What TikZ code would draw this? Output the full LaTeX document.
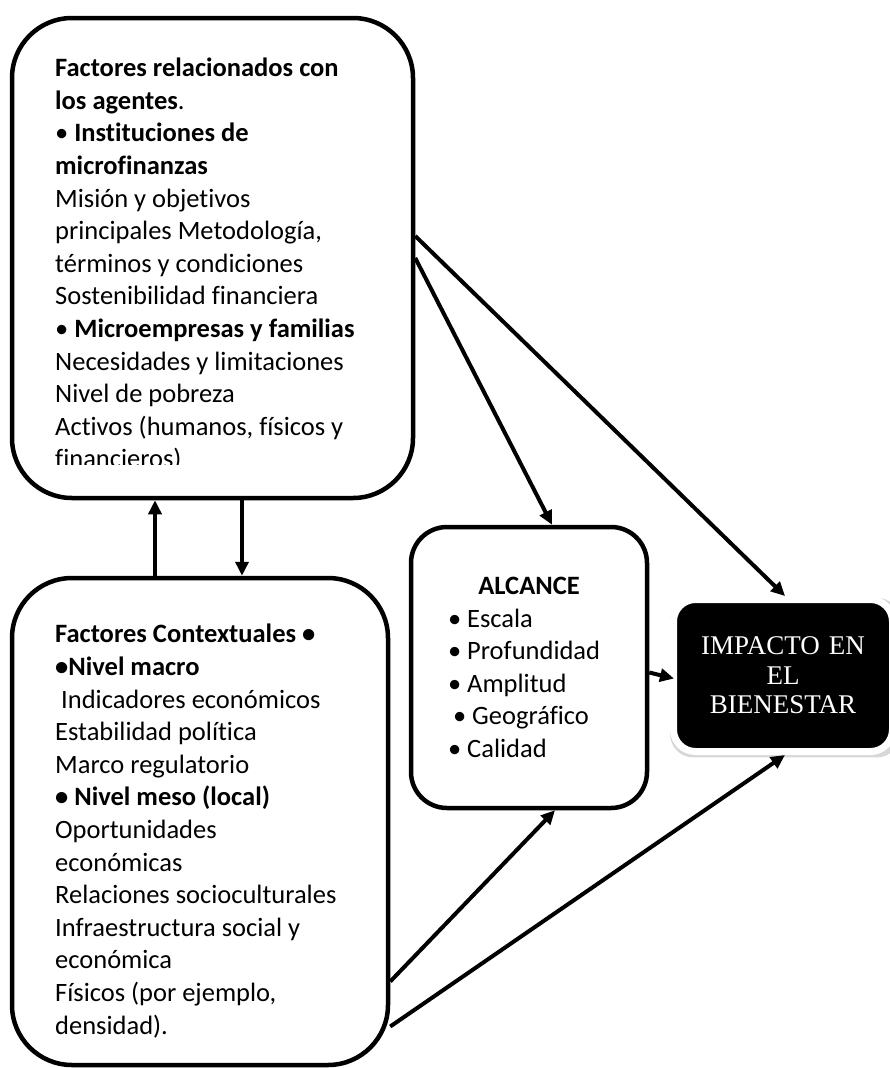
\documentclass[tikz,border=0pt]{standalone}
\usepackage{fontspec}
\setmainfont{Carlito}[Ligatures=CommonOff]
\newfontfamily\impactofont{Liberation Serif}
\usetikzlibrary{arrows.meta,positioning,shadows}
\tikzset{
  factorbox/.style={draw=black,line width=4.5pt,fill=white,rounded corners=60pt},
  factortext/.style={anchor=north west,inner sep=0pt,align=flush left,text width=345pt,
    font=\fontsize{26.5}{32.6}\selectfont},
  alcancebox/.style={draw=black,line width=4.5pt,fill=white,rounded corners=36pt,
    minimum width=236pt,minimum height=281pt,text width=162pt,align=flush left,
    font=\fontsize{26.5}{32.6}\selectfont},
  impactobox/.style={draw=white,line width=7pt,fill=black,rounded corners=22pt,
    minimum width=219pt,minimum height=152pt,text width=200pt,align=center,text=white,
    font=\impactofont\fontsize{27}{29.5}\selectfont,
    drop shadow={shadow xshift=2pt,shadow yshift=-2pt,shadow scale=1.05,fill=black!35,opacity=.45}},
  flow/.style={-{Triangle[length=14pt,width=13pt]},line width=4pt,draw=black}
}
\begin{document}
\begin{tikzpicture}[x=1pt,y=-1pt]
  \useasboundingbox (0,0) rectangle (890,1068);
  \node[factorbox,minimum width=401pt,minimum height=480pt] (agentes) at (212.5,258) {};
  \begin{scope}
    \clip (0,0) rectangle (420,464);
    \node[factortext] (agentestxt) at (55,58) {\textbf{Factores relacionados con}\\
      \textbf{los agentes}.\\
      • \textbf{Instituciones de}\\
      \textbf{microfinanzas}\\
      Misión y objetivos\\
      principales Metodología,\\
      términos y condiciones\\
      Sostenibilidad financiera\\
      • \textbf{Microempresas y familias}\\
      Necesidades y limitaciones\\
      Nivel de pobreza\\
      Activos (humanos, físicos y\\
      financieros)};
  \end{scope}
  \node[factorbox,minimum width=376pt,minimum height=487pt] (contexto) at (200,821.5) {};
  \node[factortext] (contextotxt) at (55,624) {\textbf{Factores Contextuales •}\\
    \textbf{•Nivel macro}\\
    \hspace*{6pt}Indicadores económicos\\
    Estabilidad política\\
    Marco regulatorio\\
    \textbf{• Nivel meso (local)}\\
    Oportunidades\\
    económicas\\
    Relaciones socioculturales\\
    Infraestructura social y\\
    económica\\
    Físicos (por ejemplo,\\
    densidad).};
  \node[alcancebox] (alcance) at (529,667.5) {\makebox[162pt][c]{\textbf{ALCANCE}}\\
    • Escala\\
    • Profundidad\\
    • Amplitud\\
    \hspace*{5pt}• Geográfico\\
    • Calidad};
  \node[impactobox] (impacto) at (783,675.5) {IMPACTO EN\\EL\\BIENESTAR};
  \draw[flow] ([xshift=-45pt]contexto.north) -- ([xshift=-45pt]contexto.north |- agentes.south);
  \draw[flow] ([xshift=42pt]contexto.north |- agentes.south) -- ([xshift=42pt]contexto.north);
  \draw[flow] ([yshift=22pt]agentes.east) -- ([xshift=2pt]impacto.north);
  \draw[flow] (agentes.east) -- ([xshift=23pt]alcance.north);
  \draw[flow] ([yshift=-5pt]alcance.east) -- ([yshift=-3pt,xshift=4pt]impacto.west);
  \draw[flow] ([yshift=-160pt]contexto.east) -- ([xshift=26pt]alcance.south);
  \draw[flow] ([yshift=-205pt]contexto.east) -- ([xshift=2pt]impacto.south);
\end{tikzpicture}
\end{document}
